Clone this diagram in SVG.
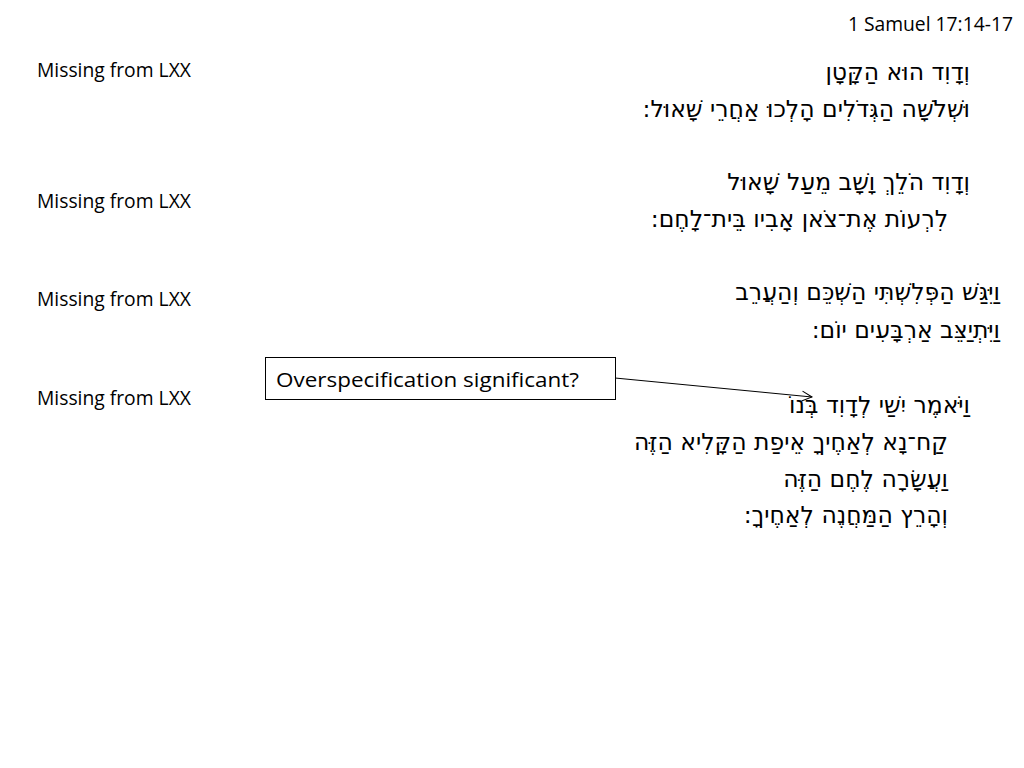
<svg xmlns="http://www.w3.org/2000/svg" width="1024" height="768" viewBox="0 0 1024 768">
<style>
.lbl{font-family:"Open Sans","Liberation Sans",sans-serif;font-size:19.3px;fill:#000}
.heb{font-family:"DejaVu Sans","Noto Sans",sans-serif;font-size:23.5px;fill:#000}
</style>
<defs><marker id="ah" markerWidth="12" markerHeight="12" refX="11" refY="6" orient="auto" markerUnits="userSpaceOnUse"><path d="M1,1 L11,6 L1,11" fill="none" stroke="#000" stroke-width="1"/></marker></defs>
<rect width="1024" height="768" fill="#fff"/>
<text class="lbl" x="1013" y="31" text-anchor="end" font-size="15.5">1 Samuel 17:14-17</text>
<g id="labels">
<text class="lbl" x="37" y="77">Missing from LXX</text>
<text class="lbl" x="37" y="208">Missing from LXX</text>
<text class="lbl" x="37" y="306">Missing from LXX</text>
<text class="lbl" x="37" y="405">Missing from LXX</text>
</g>
<g id="hebrew">
<text class="heb" x="970" y="80" direction="rtl" text-anchor="start">וְדָוִד הוּא הַקָּטָן</text>
<text class="heb" x="970" y="117" direction="rtl" text-anchor="start">וּשְׁלֹשָׁה הַגְּדֹלִים הָלְכוּ אַחֲרֵי שָׁאוּל:</text>
<text class="heb" x="970" y="190" direction="rtl" text-anchor="start">וְדָוִד הֹלֵךְ וָשָׁב מֵעַל שָׁאוּל</text>
<text class="heb" x="948" y="227" direction="rtl" text-anchor="start">לִרְעוֹת אֶת־צֹאן אָבִיו בֵּית־לָחֶם:</text>
<text class="heb" x="1000" y="300" direction="rtl" text-anchor="start">וַיִּגַּשׁ הַפְּלִשְׁתִּי הַשְׁכֵּם וְהַעֲרֵב</text>
<text class="heb" x="1000" y="338" direction="rtl" text-anchor="start">וַיִּתְיַצֵּב אַרְבָּעִים יוֹם:</text>
<text class="heb" x="970" y="413" direction="rtl" text-anchor="start">וַיֹּאמֶר יִשַׁי לְדָוִד בְּנוֹ</text>
<text class="heb" x="948" y="450" direction="rtl" text-anchor="start">קַח־נָא לְאַחֶיךָ אֵיפַת הַקָּלִיא הַזֶּה</text>
<text class="heb" x="948" y="487" direction="rtl" text-anchor="start">וַעֲשָׂרָה לֶחֶם הַזֶּה</text>
<text class="heb" x="948" y="523" direction="rtl" text-anchor="start">וְהָרֵץ הַמַּחֲנֶה לְאַחֶיךָ:</text>
</g>
<g id="note">
<rect x="265.5" y="357.5" width="350" height="42" fill="#fff" stroke="#000" stroke-width="1"/>
<text class="lbl" x="276" y="387" font-size="22" textLength="303" lengthAdjust="spacingAndGlyphs">Overspecification significant?</text>
</g>
<g id="connectors">
<line x1="615" y1="378" x2="812" y2="397" stroke="#000" stroke-width="1" marker-end="url(#ah)"/>
</g>
</svg>
